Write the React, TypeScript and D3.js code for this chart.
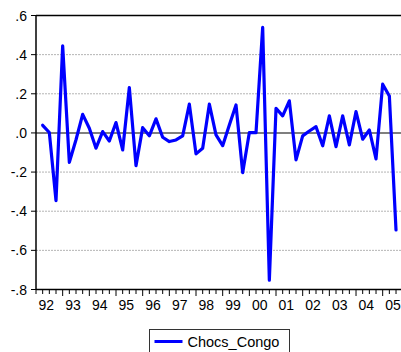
import * as d3 from "d3";
import { useEffect } from "react";

// quarterly shocks, 1992Q1 .. 2005Q2
const values = [
  0.039, 0.002, -0.346, 0.445, -0.15, -0.035, 0.095, 0.024, -0.078, 0.007,
  -0.041, 0.053, -0.087, 0.232, -0.167, 0.027, -0.015, 0.072, -0.022, -0.044,
  -0.036, -0.015, 0.147, -0.107, -0.078, 0.147, -0.01, -0.065, 0.041, 0.143,
  -0.203, 0.002, 0.002, 0.539, -0.752, 0.126, 0.087, 0.164, -0.138, -0.015,
  0.01, 0.032, -0.066, 0.087, -0.07, 0.087, -0.061, 0.109, -0.032, 0.015,
  -0.133, 0.249, 0.189, -0.496,
];
const yearLabels = ["92", "93", "94", "95", "96", "97", "98", "99", "00", "01", "02", "03", "04", "05"];
const yTicks = [0.6, 0.4, 0.2, 0.0, -0.2, -0.4, -0.6, -0.8];
const seriesName = "Chocs_Congo";

const W = 401;
const H = 352;
const font = "'Liberation Sans', Arial, sans-serif";

const fmt = (v: number) => {
  const s = Math.abs(v).toFixed(1).replace(/^0/, "");
  return v < -1e-9 ? "-" + s : s;
};

export default function App() {
  useEffect(() => {
    document.body.style.margin = "0";
  }, []);

  // index -1 is the axis origin, points sit on the quarter ticks
  const x = d3.scaleLinear().domain([-1, 54]).range([36, 36 + 55 * 6.667]);
  const y = d3.scaleLinear().domain([-0.8, 0.6]).range([289.5, 15.5]);

  const line = d3
    .line<number>()
    .x((_, i) => x(i))
    .y((d) => y(d));

  const ticks = d3.range(-1, 55);

  return (
    <svg width={W} height={H} style={{ display: "block", background: "#fff" }}>
      {/* grid */}
      {yTicks.map((t) =>
        t === 0 || t === 0.6 || t === -0.8 ? null : (
          <line
            key={t}
            x1={x(-1)}
            x2={W + 5}
            y1={y(t)}
            y2={y(t)}
            stroke="#b4b4b4"
            strokeWidth={1}
            strokeDasharray="2,1"
          />
        )
      )}
      <line x1={x(-1)} x2={W + 5} y1={y(0)} y2={y(0)} stroke="#555" strokeWidth={1.5} />

      {/* frame */}
      <line x1={x(-1)} x2={W + 5} y1={y(0.6)} y2={y(0.6)} stroke="#000" strokeWidth={1.5} />
      <line x1={x(-1)} x2={W + 5} y1={y(-0.8)} y2={y(-0.8)} stroke="#000" strokeWidth={1.5} />
      <line x1={x(-1)} x2={x(-1)} y1={y(0.6)} y2={y(-0.8)} stroke="#000" strokeWidth={1.5} />

      {/* y axis */}
      {yTicks.map((t) => (
        <g key={"y" + t}>
          <line x1={x(-1) - 5} x2={x(-1)} y1={y(t)} y2={y(t)} stroke="#000" strokeWidth={1} />
          <text
            x={27}
            y={y(t)}
            textAnchor="end"
            dominantBaseline="central"
            fontFamily={font}
            fontSize={14}
            fill="#000"
          >
            {fmt(t)}
          </text>
        </g>
      ))}

      {/* x axis */}
      {ticks.map((k) => (
        <line
          key={"x" + k}
          x1={x(k)}
          x2={x(k)}
          y1={y(-0.8)}
          y2={y(-0.8) + ((k + 1) % 4 === 0 && k > -1 ? 6.5 : 4.5)}
          stroke="#000"
          strokeWidth={1}
        />
      ))}
      {yearLabels.map((lab, j) => (
        <text
          key={lab}
          x={x(j * 4 + 0.55)}
          y={310}
          textAnchor="middle"
          fontFamily={font}
          fontSize={14}
          fill="#000"
        >
          {lab}
        </text>
      ))}

      {/* series */}
      <path
        d={line(values) ?? ""}
        fill="none"
        stroke="#0000ff"
        strokeWidth={3.2}
        strokeLinejoin="round"
        strokeLinecap="round"
      />

      {/* legend */}
      <rect x={149.5} y={329.5} width={140} height={30} fill="#fff" stroke="#333" strokeWidth={1} />
      <line x1={154.5} x2={182.5} y1={341.5} y2={341.5} stroke="#0000ff" strokeWidth={3} />
      <text x={187.5} y={346.5} fontFamily={font} fontSize={14.5} fill="#000">
        {seriesName}
      </text>
    </svg>
  );
}
